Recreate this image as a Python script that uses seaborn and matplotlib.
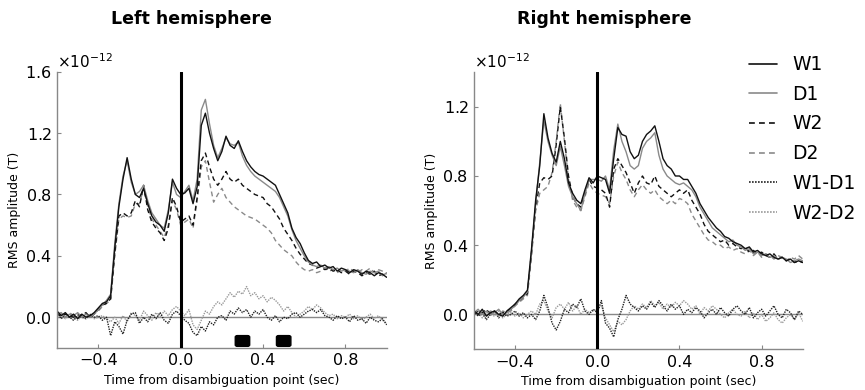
import numpy as np
import pandas as pd
import matplotlib
matplotlib.use("Agg")
import matplotlib.pyplot as plt
from matplotlib.patches import FancyBboxPatch
from matplotlib.lines import Line2D
import seaborn as sns

sns.set_style("ticks")
plt.rcParams['font.family'] = ['DejaVu Sans']
plt.rcParams['text.color'] = 'black'
plt.rcParams['axes.labelcolor'] = 'black'

# time axis (sec), 20 ms steps from -0.6 to 1.0
time = np.round(np.linspace(-0.6, 1.0, 81), 2)

# ---- Left hemisphere (x1e-12 T) ----
left_w1 = [0.04, 0.01, 0.03, 0.0, 0.02, -0.01, 0.02, 0.0, 0.01, 0.03,
           0.06, 0.09, 0.10, 0.14, 0.45, 0.72, 0.90, 1.04, 0.90, 0.80,
           0.78, 0.84, 0.74, 0.66, 0.62, 0.60, 0.56, 0.68, 0.90, 0.84,
           0.80, 0.81, 0.84, 0.74, 0.85, 1.25, 1.33, 1.20, 1.10, 1.02,
           1.08, 1.18, 1.12, 1.10, 1.15, 1.08, 1.02, 0.98, 0.95, 0.93,
           0.92, 0.90, 0.88, 0.86, 0.80, 0.74, 0.68, 0.58, 0.52, 0.48,
           0.42, 0.37, 0.35, 0.36, 0.33, 0.34, 0.32, 0.33, 0.30, 0.32,
           0.31, 0.29, 0.31, 0.30, 0.28, 0.30, 0.29, 0.27, 0.29, 0.28, 0.26]
left_d1 = [0.02, 0.03, 0.0, 0.02, 0.01, 0.03, 0.0, 0.02, 0.0, 0.02,
           0.05, 0.08, 0.11, 0.15, 0.48, 0.74, 0.92, 1.02, 0.88, 0.80,
           0.82, 0.86, 0.76, 0.68, 0.64, 0.60, 0.58, 0.70, 0.88, 0.80,
           0.78, 0.82, 0.86, 0.76, 0.90, 1.35, 1.42, 1.26, 1.12, 1.04,
           1.10, 1.17, 1.13, 1.12, 1.14, 1.05, 0.99, 0.95, 0.92, 0.90,
           0.88, 0.86, 0.84, 0.82, 0.78, 0.72, 0.66, 0.57, 0.50, 0.45,
           0.40, 0.36, 0.34, 0.33, 0.34, 0.32, 0.33, 0.31, 0.32, 0.30,
           0.31, 0.30, 0.29, 0.31, 0.29, 0.28, 0.30, 0.29, 0.30, 0.27, 0.29]
left_w2 = [0.03, 0.0, 0.02, 0.01, 0.0, 0.02, 0.01, 0.03, 0.0, 0.02,
           0.05, 0.08, 0.09, 0.12, 0.42, 0.66, 0.68, 0.66, 0.68, 0.76,
           0.72, 0.86, 0.70, 0.62, 0.58, 0.55, 0.50, 0.58, 0.78, 0.72,
           0.62, 0.64, 0.66, 0.60, 0.78, 1.02, 1.07, 0.98, 0.90, 0.86,
           0.90, 0.95, 0.90, 0.88, 0.90, 0.86, 0.84, 0.82, 0.80, 0.79,
           0.78, 0.74, 0.72, 0.68, 0.64, 0.58, 0.54, 0.50, 0.45, 0.41,
           0.38, 0.35, 0.34, 0.32, 0.33, 0.31, 0.32, 0.30, 0.31, 0.29,
           0.30, 0.28, 0.30, 0.29, 0.27, 0.29, 0.28, 0.30, 0.27, 0.28, 0.27]
left_d2 = [0.01, 0.02, 0.0, 0.03, 0.01, 0.0, 0.02, 0.0, 0.01, 0.02,
           0.04, 0.07, 0.09, 0.11, 0.40, 0.64, 0.66, 0.65, 0.66, 0.74,
           0.74, 0.84, 0.72, 0.64, 0.60, 0.56, 0.52, 0.60, 0.76, 0.70,
           0.60, 0.62, 0.64, 0.58, 0.76, 0.98, 1.02, 0.88, 0.75, 0.80,
           0.84, 0.78, 0.75, 0.72, 0.70, 0.68, 0.66, 0.65, 0.64, 0.62,
           0.60, 0.58, 0.55, 0.50, 0.47, 0.44, 0.42, 0.40, 0.36, 0.33,
           0.31, 0.30, 0.31, 0.29, 0.30, 0.32, 0.30, 0.31, 0.29, 0.31,
           0.30, 0.32, 0.30, 0.29, 0.31, 0.30, 0.32, 0.29, 0.31, 0.30, 0.28]
left_w1d1 = [0.03, -0.01, 0.02, 0.0, -0.02, 0.01, 0.0, -0.01, 0.02, 0.0,
             0.01, -0.02, 0.0, -0.12, -0.03, -0.06, -0.11, -0.02, 0.02, 0.03,
             -0.04, 0.0, -0.03, 0.02, -0.01, 0.03, -0.02, -0.04, 0.02, 0.04,
             0.01, -0.02, -0.04, -0.10, -0.12, -0.06, -0.09, -0.03, -0.05, 0.0,
             0.01, -0.02, 0.04, 0.02, 0.06, 0.03, 0.05, 0.0, 0.04, 0.02,
             0.05, 0.0, -0.02, 0.01, -0.03, 0.0, -0.01, 0.02, 0.03, 0.0,
             0.02, 0.04, 0.05, 0.03, 0.05, 0.01, 0.0, -0.02, 0.01, -0.01,
             0.0, -0.03, 0.01, -0.02, -0.01, -0.04, 0.0, -0.02, -0.03, -0.01, -0.05]
left_w2d2 = [0.0, 0.02, -0.01, 0.01, 0.0, -0.02, 0.01, 0.0, 0.02, -0.01,
             0.0, 0.01, -0.01, -0.03, 0.0, -0.04, 0.01, -0.03, 0.03, 0.01,
             -0.02, 0.04, 0.01, -0.02, 0.03, 0.0, 0.04, 0.01, 0.05, 0.07,
             0.04, 0.01, 0.05, -0.05, -0.08, -0.02, 0.04, 0.02, 0.07, 0.10,
             0.08, 0.12, 0.16, 0.13, 0.17, 0.15, 0.20, 0.14, 0.16, 0.12,
             0.14, 0.10, 0.13, 0.11, 0.08, 0.04, 0.07, 0.03, 0.0, 0.02,
             0.04, 0.07, 0.05, 0.08, 0.06, 0.03, 0.01, 0.02, -0.01, 0.01,
             0.0, 0.02, -0.01, 0.01, -0.02, 0.0, 0.02, -0.01, 0.01, -0.02, -0.04]

# ---- Right hemisphere (x1e-12 T) ----
right_w1 = [0.02, 0.0, 0.03, -0.01, 0.01, 0.02, 0.0, -0.01, 0.02, 0.04,
            0.06, 0.09, 0.11, 0.14, 0.38, 0.66, 0.86, 1.16, 1.02, 0.93,
            0.88, 1.00, 0.90, 0.76, 0.70, 0.66, 0.64, 0.72, 0.79, 0.76,
            0.80, 0.79, 0.78, 0.70, 0.90, 1.08, 1.04, 1.03, 0.94, 0.90,
            0.92, 1.00, 1.04, 1.06, 1.09, 1.00, 0.90, 0.86, 0.84, 0.80,
            0.80, 0.78, 0.78, 0.74, 0.70, 0.64, 0.60, 0.56, 0.53, 0.50,
            0.48, 0.45, 0.44, 0.42, 0.41, 0.40, 0.38, 0.39, 0.36, 0.37,
            0.35, 0.34, 0.35, 0.33, 0.32, 0.33, 0.31, 0.32, 0.30, 0.31, 0.30]
right_d1 = [0.01, 0.03, 0.0, 0.02, 0.0, 0.01, 0.03, 0.0, 0.01, 0.03,
            0.05, 0.08, 0.10, 0.13, 0.36, 0.64, 0.88, 1.12, 1.00, 0.92,
            0.86, 0.97, 0.86, 0.74, 0.68, 0.64, 0.60, 0.70, 0.78, 0.78,
            0.78, 0.77, 0.80, 0.72, 0.95, 1.10, 1.00, 0.94, 0.86, 0.84,
            0.86, 0.96, 1.00, 1.02, 1.05, 0.92, 0.84, 0.80, 0.78, 0.76,
            0.75, 0.76, 0.74, 0.72, 0.68, 0.62, 0.58, 0.54, 0.50, 0.48,
            0.46, 0.44, 0.42, 0.43, 0.40, 0.39, 0.37, 0.38, 0.35, 0.36,
            0.34, 0.35, 0.33, 0.34, 0.32, 0.33, 0.32, 0.30, 0.31, 0.32, 0.31]
right_w2 = [0.0, 0.02, 0.01, 0.03, 0.0, 0.02, 0.0, 0.01, 0.02, 0.03,
            0.06, 0.08, 0.10, 0.12, 0.36, 0.62, 0.76, 0.79, 0.78, 0.80,
            0.98, 1.20, 1.02, 0.80, 0.68, 0.64, 0.62, 0.70, 0.78, 0.74,
            0.73, 0.72, 0.70, 0.62, 0.84, 0.90, 0.86, 0.82, 0.76, 0.70,
            0.76, 0.80, 0.76, 0.75, 0.80, 0.74, 0.72, 0.70, 0.68, 0.70,
            0.72, 0.70, 0.72, 0.66, 0.62, 0.58, 0.52, 0.48, 0.46, 0.44,
            0.42, 0.43, 0.40, 0.41, 0.39, 0.38, 0.39, 0.36, 0.37, 0.35,
            0.36, 0.34, 0.33, 0.35, 0.32, 0.33, 0.31, 0.32, 0.30, 0.31, 0.30]
right_d2 = [0.02, 0.0, 0.01, 0.0, 0.02, 0.01, -0.01, 0.02, 0.01, 0.02,
            0.05, 0.07, 0.09, 0.11, 0.34, 0.60, 0.70, 0.72, 0.74, 0.82,
            1.00, 1.22, 1.00, 0.78, 0.66, 0.62, 0.60, 0.68, 0.76, 0.72,
            0.70, 0.69, 0.68, 0.64, 0.80, 0.88, 0.82, 0.78, 0.72, 0.68,
            0.72, 0.75, 0.72, 0.70, 0.72, 0.68, 0.66, 0.64, 0.66, 0.64,
            0.67, 0.66, 0.64, 0.58, 0.54, 0.50, 0.46, 0.43, 0.42, 0.40,
            0.40, 0.38, 0.39, 0.37, 0.38, 0.36, 0.35, 0.37, 0.34, 0.36,
            0.33, 0.35, 0.34, 0.32, 0.34, 0.33, 0.31, 0.33, 0.32, 0.34, 0.32]
right_w1d1 = [0.02, -0.01, 0.01, -0.03, 0.0, 0.02, -0.02, 0.01, -0.01, 0.0,
              0.02, -0.01, 0.01, -0.02, 0.0, -0.03, 0.02, 0.11, 0.04, -0.05,
              -0.09, -0.04, 0.03, 0.01, 0.06, 0.04, 0.09, 0.02, 0.0, 0.03,
              0.01, 0.08, -0.05, -0.08, -0.13, -0.03, 0.03, 0.11, 0.06, 0.04,
              0.02, 0.05, 0.03, 0.07, 0.04, 0.08, 0.05, 0.02, 0.06, 0.03,
              0.05, 0.0, 0.03, 0.01, 0.04, 0.02, -0.02, 0.01, 0.03, 0.0,
              0.04, 0.01, -0.01, 0.03, 0.05, 0.02, 0.0, 0.04, -0.02, 0.01,
              0.03, -0.01, 0.02, 0.05, 0.0, -0.02, 0.03, 0.01, -0.03, 0.02, 0.0]
right_w2d2 = [0.0, 0.02, -0.02, 0.01, 0.0, -0.01, 0.02, -0.02, 0.0, 0.01,
              -0.01, 0.01, -0.02, 0.0, 0.02, 0.0, 0.06, 0.08, 0.02, -0.02,
              0.04, 0.06, 0.03, 0.07, 0.02, 0.05, 0.0, 0.03, 0.01, 0.02,
              0.03, 0.05, -0.02, -0.06, -0.10, -0.04, -0.06, -0.03, 0.02, 0.05,
              0.03, 0.06, 0.04, 0.08, 0.05, 0.07, 0.03, 0.06, 0.04, 0.07,
              0.05, 0.08, 0.06, 0.03, 0.05, 0.0, 0.04, 0.02, 0.05, 0.03,
              0.0, -0.02, 0.01, 0.03, 0.0, -0.01, 0.02, -0.02, 0.01, -0.03,
              0.0, -0.04, -0.02, 0.01, -0.03, -0.05, -0.02, 0.0, -0.03, 0.01, -0.04]

labels = ["W1", "D1", "W2", "D2", "W1-D1", "W2-D2"]
colors = ["#111111", "#8a8a8a", "#111111", "#8a8a8a", "#222222", "#9a9a9a"]
styles = ["-", "-", (0, (3.5, 2.5)), (0, (3.5, 2.5)), (0, (1, 0.8)), (0, (1, 0.8))]

# significance windows in left hemisphere (sec)
sig_windows = [(0.265, 0.335), (0.465, 0.535)]

left_series = [left_w1, left_d1, left_w2, left_d2, left_w1d1, left_w2d2]
right_series = [right_w1, right_d1, right_w2, right_d2, right_w1d1, right_w2d2]

fig = plt.figure(figsize=(8.65, 3.9), dpi=100)
ax_l = fig.add_axes([0.066, 0.108, 0.381, 0.708])
ax_r = fig.add_axes([0.548, 0.105, 0.380, 0.710])

for ax, series, ylim, yt in [(ax_l, left_series, (-0.2e-12, 1.6e-12), [0, 0.4, 0.8, 1.2, 1.6]),
                             (ax_r, right_series, (-0.2e-12, 1.4e-12), [0, 0.4, 0.8, 1.2])]:
    # plot in reverse so black lines sit on top
    for vals, lab, c, ls in reversed(list(zip(series, labels, colors, styles))):
        df = pd.DataFrame({"t": time, "amp": np.array(vals) * 1e-12})
        sns.lineplot(data=df, x="t", y="amp", ax=ax, color=c, linestyle=ls,
                     lw=1.0, legend=False)
    ax.axhline(0, color="#888888", lw=1.0, zorder=0)
    ax.axvline(0, color="black", lw=2.2, zorder=5)
    ax.set_xlim(-0.6, 1.0)
    ax.set_ylim(*ylim)
    ax.set_xticks([-0.4, 0.0, 0.4, 0.8])
    ax.set_yticks(np.array(yt) * 1e-12)
    ax.ticklabel_format(axis="y", style="sci", scilimits=(0, 0), useMathText=True)
    ax.yaxis.get_offset_text().set_fontsize(11)
    ax.yaxis.get_offset_text().set_color("black")
    ax.tick_params(direction="in", length=3, color="#888888", labelcolor="black",
                   labelsize=11.5, pad=4)
    ax.set_xlabel("Time from disambiguation point (sec)", fontsize=9)
    ax.set_ylabel("RMS amplitude (T)", fontsize=9, labelpad=3)
    for s in ["top", "right"]:
        ax.spines[s].set_visible(False)
    for s in ["left", "bottom"]:
        ax.spines[s].set_color("#888888")
        ax.spines[s].set_linewidth(1.0)

for x0, x1 in sig_windows:
    ax_l.add_patch(FancyBboxPatch((x0, -0.19e-12), x1 - x0, 0.07e-12,
                                  boxstyle="round,pad=0,rounding_size=0.01",
                                  mutation_aspect=1e-12,
                                  facecolor="black", edgecolor="black", lw=1, zorder=6))

fig.text(0.221, 0.952, "Left hemisphere", ha="center", va="center",
         fontsize=12.5, fontweight="bold")
fig.text(0.699, 0.952, "Right hemisphere", ha="center", va="center",
         fontsize=12.5, fontweight="bold")

handles = [Line2D([], [], color=c, linestyle=ls, lw=1.2) for c, ls in zip(colors, styles)]
fig.legend(handles, labels, loc="upper left", bbox_to_anchor=(0.857, 0.878),
           frameon=False, fontsize=13.5, handlelength=1.5, handletextpad=0.8,
           labelspacing=0.57, borderaxespad=0)

fig.savefig("out.png", dpi=100)
